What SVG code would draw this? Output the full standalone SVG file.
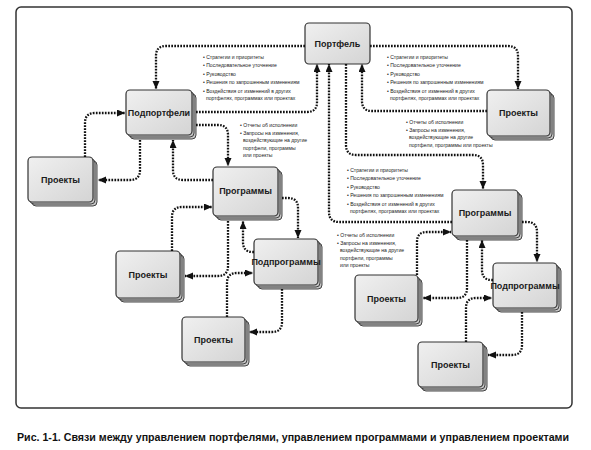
<svg xmlns="http://www.w3.org/2000/svg" width="591" height="450" viewBox="0 0 591 450">
<defs>
<linearGradient id="g" x1="0" y1="0" x2="1" y2="1">
<stop offset="0" stop-color="#f0f0f0"/>
<stop offset="1" stop-color="#d4d4d4"/>
</linearGradient>
<marker id="ah" markerUnits="userSpaceOnUse" markerWidth="9" markerHeight="8" refX="8" refY="3.5" orient="auto">
<path d="M0,0 L8,3.5 L0,7 z" fill="#111"/>
</marker>
</defs>
<style>
.frame{fill:none;stroke:#333;stroke-width:1.5}
.box{fill:url(#g);stroke:#333;stroke-width:1.2}
.lay{fill:#c4c4c4;stroke:#333;stroke-width:0.9}
.lbl{font-family:"Liberation Sans",Arial,sans-serif;font-weight:bold;font-size:9px;fill:#1a1a1a;text-anchor:middle}
.ann{font-family:"Liberation Sans",Arial,sans-serif;font-size:6px;fill:#222}
.con path{fill:none;stroke:#111;stroke-width:2.3;stroke-dasharray:1.7 1.3;marker-end:url(#ah)}
.cap{font-family:"Liberation Sans",Arial,sans-serif;font-weight:bold;font-size:11px;fill:#111}
</style>
<rect class="frame" x="16" y="7" width="556" height="401" rx="5"/>

<g id="portfolio">
<rect class="box" x="305" y="23" width="65" height="41" rx="4"/>
<text class="lbl" x="337.5" y="47">Портфель</text>
</g>
<g id="subportfolios">
<rect class="lay" x="130" y="94" width="66" height="45" rx="4"/>
<rect class="lay" x="128" y="92" width="66" height="45" rx="4"/>
<rect class="box" x="126" y="90" width="66" height="45" rx="4"/>
<text class="lbl" x="159" y="116">Подпортфели</text>
</g>
<g id="projects-left">
<rect class="lay" x="32" y="161" width="65" height="45" rx="4"/>
<rect class="lay" x="30" y="159" width="65" height="45" rx="4"/>
<rect class="box" x="28" y="157" width="65" height="45" rx="4"/>
<text class="lbl" x="60.5" y="183">Проекты</text>
</g>
<g id="projects-topright">
<rect class="lay" x="491" y="94" width="63" height="46" rx="4"/>
<rect class="lay" x="489" y="92" width="63" height="46" rx="4"/>
<rect class="box" x="487" y="90" width="63" height="46" rx="4"/>
<text class="lbl" x="518.5" y="116">Проекты</text>
</g>
<g id="programs-left">
<rect class="lay" x="217" y="171" width="65" height="49" rx="4"/>
<rect class="lay" x="215" y="169" width="65" height="49" rx="4"/>
<rect class="box" x="213" y="167" width="65" height="49" rx="4"/>
<text class="lbl" x="245.5" y="194">Программы</text>
</g>
<g id="subprograms-left">
<rect class="lay" x="258" y="243" width="64" height="46" rx="4"/>
<rect class="lay" x="256" y="241" width="64" height="46" rx="4"/>
<rect class="box" x="254" y="239" width="64" height="46" rx="4"/>
<text class="lbl" x="286" y="265">Подпрограммы</text>
</g>
<g id="projects-midleft">
<rect class="lay" x="120" y="255" width="64" height="47" rx="4"/>
<rect class="lay" x="118" y="253" width="64" height="47" rx="4"/>
<rect class="box" x="116" y="251" width="64" height="47" rx="4"/>
<text class="lbl" x="148" y="278">Проекты</text>
</g>
<g id="projects-bottomleft">
<rect class="lay" x="186" y="321" width="63" height="45" rx="4"/>
<rect class="lay" x="184" y="319" width="63" height="45" rx="4"/>
<rect class="box" x="182" y="317" width="63" height="45" rx="4"/>
<text class="lbl" x="213.5" y="343">Проекты</text>
</g>
<g id="programs-right">
<rect class="lay" x="456" y="194" width="66" height="46" rx="4"/>
<rect class="lay" x="454" y="192" width="66" height="46" rx="4"/>
<rect class="box" x="452" y="190" width="66" height="46" rx="4"/>
<text class="lbl" x="485" y="216">Программы</text>
</g>
<g id="subprograms-right">
<rect class="lay" x="497" y="267" width="64" height="45" rx="4"/>
<rect class="lay" x="495" y="265" width="64" height="45" rx="4"/>
<rect class="box" x="493" y="263" width="64" height="45" rx="4"/>
<text class="lbl" x="525" y="289">Подпрограммы</text>
</g>
<g id="projects-midright">
<rect class="lay" x="359" y="279" width="63" height="47" rx="4"/>
<rect class="lay" x="357" y="277" width="63" height="47" rx="4"/>
<rect class="box" x="355" y="275" width="63" height="47" rx="4"/>
<text class="lbl" x="386.5" y="302">Проекты</text>
</g>
<g id="projects-bottomright">
<rect class="lay" x="422" y="346" width="65" height="45" rx="4"/>
<rect class="lay" x="420" y="344" width="65" height="45" rx="4"/>
<rect class="box" x="418" y="342" width="65" height="45" rx="4"/>
<text class="lbl" x="450.5" y="368">Проекты</text>
</g>

<g id="connectors" class="con">
<path d="M305,46 H166 Q156,46 156,56 V89"/>
<path d="M370,46 H508 Q518,46 518,56 V89"/>
<path d="M196,112 H307 Q317,112 317,102 V64"/>
<path d="M346,64 V145 Q346,155 356,155 H473 Q483,155 483,165 V189"/>
<path d="M452,222 H339 Q329,222 329,212 V64"/>
<path d="M487,111 H372 Q362,111 362,101 V64"/>
<path d="M196,125 H218 Q228,125 228,135 V166"/>
<path d="M213,180 H183 Q173,180 173,170 V140"/>
<path d="M140,140 V170 Q140,180 130,180 H98"/>
<path d="M85,157 V123 Q85,113 95,113 H125"/>
<path d="M282,198 H288 Q298,198 298,208 V238"/>
<path d="M254,252 H253 Q243,252 243,242 V221"/>
<path d="M228,221 V266 Q228,276 218,276 H185"/>
<path d="M172,251 V217 Q172,207 182,207 H212"/>
<path d="M282,289 V322 Q282,332 272,332 H249"/>
<path d="M227,317 V283 Q227,273 237,273 H253"/>
<path d="M522,222 H527 Q537,222 537,232 V262"/>
<path d="M493,280 H492 Q482,280 482,270 V240"/>
<path d="M467,240 V288 Q467,298 457,298 H423"/>
<path d="M417,275 V242 Q417,232 427,232 H451"/>
<path d="M522,312 V345 Q522,355 512,355 H488"/>
<path d="M466,342 V308 Q466,298 476,298 H492"/>
</g>

<g id="notes">
<g transform="translate(203,0) scale(0.85,1)">
<text class="ann" x="0" y="59">• Стратегии и приоритеты</text>
<text class="ann" x="0" y="67.5">• Последовательное уточнение</text>
<text class="ann" x="0" y="76">• Руководство</text>
<text class="ann" x="0" y="84.5">• Решения по запрошенным изменениям</text>
<text class="ann" x="0" y="93">• Воздействия от изменений в других</text>
<text class="ann" x="3.5" y="100.5">портфелях, программах или проектах</text>
</g>
<g transform="translate(387,0) scale(0.85,1)">
<text class="ann" x="0" y="59">• Стратегии и приоритеты</text>
<text class="ann" x="0" y="67.5">• Последовательное уточнение</text>
<text class="ann" x="0" y="76">• Руководство</text>
<text class="ann" x="0" y="84.5">• Решения по запрошенным изменениям</text>
<text class="ann" x="0" y="93">• Воздействия от изменений в других</text>
<text class="ann" x="3.5" y="100.5">портфелях, программах или проектах</text>
</g>
<g transform="translate(406,0) scale(0.85,1)">
<text class="ann" x="0" y="124">• Отчеты об исполнении</text>
<text class="ann" x="0" y="132">• Запросы на изменения,</text>
<text class="ann" x="3.5" y="139.5">воздействующие на другие</text>
<text class="ann" x="3.5" y="147">портфели, программы или проекты</text>
</g>
<g transform="translate(240,0) scale(0.85,1)">
<text class="ann" x="0" y="127">• Отчеты об исполнении</text>
<text class="ann" x="0" y="135">• Запросы на изменения,</text>
<text class="ann" x="3.5" y="142.5">воздействующие на другие</text>
<text class="ann" x="3.5" y="150">портфели, программы</text>
<text class="ann" x="3.5" y="157.5">или проекты</text>
</g>
<g transform="translate(347,0) scale(0.85,1)">
<text class="ann" x="0" y="172">• Стратегии и приоритеты</text>
<text class="ann" x="0" y="180.5">• Последовательное уточнение</text>
<text class="ann" x="0" y="189">• Руководство</text>
<text class="ann" x="0" y="197.5">• Решения по запрошенным изменениям</text>
<text class="ann" x="0" y="206">• Воздействия от изменений в других</text>
<text class="ann" x="3.5" y="213.5">портфелях, программах или проектах</text>
</g>
<g transform="translate(337,0) scale(0.85,1)">
<text class="ann" x="0" y="237">• Отчеты об исполнении</text>
<text class="ann" x="0" y="245">• Запросы на изменения,</text>
<text class="ann" x="3.5" y="252.5">воздействующие на другие</text>
<text class="ann" x="3.5" y="260">портфели, программы</text>
<text class="ann" x="3.5" y="267.5">или проекты</text>
</g>
</g>

<text class="cap" x="17" y="441" textLength="552" lengthAdjust="spacingAndGlyphs">Рис. 1-1. Связи между управлением портфелями, управлением программами и управлением проектами</text>
</svg>
